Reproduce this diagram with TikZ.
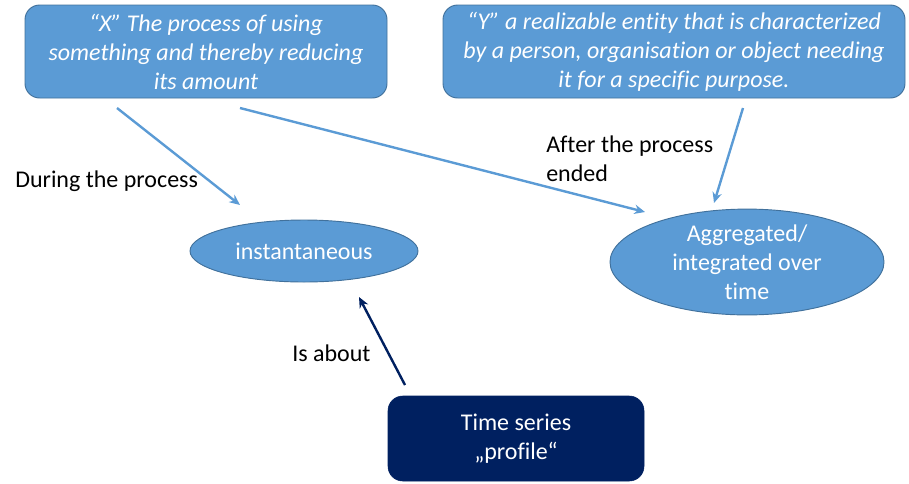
\documentclass[tikz,border=0pt]{standalone}
\usepackage{fontspec}
\setmainfont{Carlito}[Ligatures=CommonOff]
\usepackage{tikz}
\usetikzlibrary{shapes.geometric,arrows.meta,positioning,calc}
\definecolor{boxblue}{HTML}{5B9BD5}
\definecolor{boxedge}{HTML}{41719C}
\definecolor{navy}{HTML}{002060}

\begin{document}
\begin{tikzpicture}[
    x=0.75pt, y=-0.75pt,
    font=\fontsize{18}{21.75}\selectfont,
    defbox/.style={draw=boxedge, rounded corners=11pt, fill=boxblue, text=white, align=center, line width=0.7pt, font=\fontsize{18}{21.75}\selectfont\itshape, inner sep=0pt},
    kind/.style={ellipse, draw=boxedge, fill=boxblue, text=white, align=center, line width=0.7pt, inner sep=0pt},
    series/.style={draw=navy, rounded corners=11pt, fill=navy, text=white, align=center, inner sep=0pt, minimum width=192pt, minimum height=63.75pt},
    tag/.style={anchor=west, align=left, inner sep=0pt},
    link/.style={-{Stealth[length=8pt,width=7pt]}, draw=boxblue, line width=1.8pt},
    navylink/.style={-{Stealth[length=8pt,width=7pt]}, draw=navy, line width=1.8pt}
]
\useasboundingbox (0,0) rectangle (909,483);

\node[defbox, minimum width=271.5pt, minimum height=69.75pt] (x) at (206,51.5) {“X” The process of using\\something and thereby reducing\\its amount};
\node[defbox, minimum width=346.5pt, minimum height=69.75pt] (y) at (674,51.5) {“Y” a realizable entity that is characterized\\by a person, organisation or object needing\\it for a specific purpose.};
\node[kind, minimum width=171pt, minimum height=46.5pt] (inst) at (304,251) {instantaneous};
\node[kind, minimum width=205.5pt, minimum height=66pt] (agg) at (747,262) {Aggregated/\\integrated over\\time};
\node[series] (ts) at (516,438.5) {Time series\\„profile“};

\coordinate (x1) at (117,108);
\coordinate (x2) at (240,108);
\coordinate (y1) at (743,108);
\coordinate (inst1) at (240,205);
\coordinate (agg1) at (645,212);
\coordinate (agg2) at (714,203);
\coordinate (ts1) at (405,385);
\coordinate (inst2) at (359,297);

\draw[link] (x1) -- (inst1);
\draw[link] (x2) -- (agg1);
\draw[link] (y1) -- (agg2);
\draw[navylink] (ts1) -- (inst2);

\node[tag] (during) at (15,181) {During the process};
\node[tag] (after) at (546,159) {After the process\\ended};
\node[tag] (about) at (292,353) {Is about};
\end{tikzpicture}
\end{document}
